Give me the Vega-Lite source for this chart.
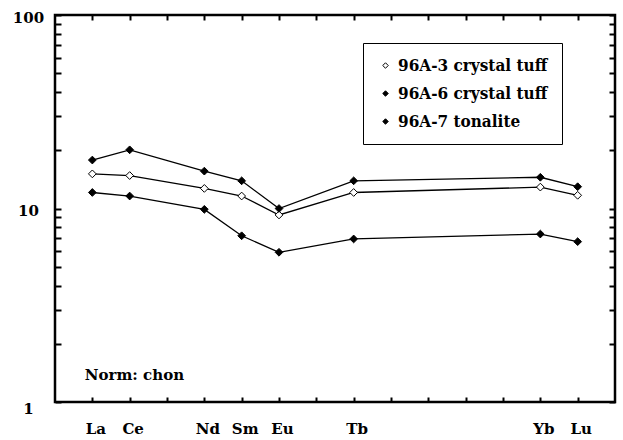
{
  "$schema": "https://vega.github.io/schema/vega-lite/v6.json",
  "width": 560,
  "height": 387,
  "autosize": "none",
  "padding": {"left": 55, "top": 15, "right": 8, "bottom": 38},
  "background": "white",
  "config": {
    "view": {"stroke": "black", "strokeWidth": 2.5},
    "axis": {
      "domain": false, "tickColor": "black", "labelColor": "black", "grid": false,
      "labelFont": "DejaVu Serif", "labelFontWeight": "bold", "labelFontSize": 15,
      "tickWidth": 2, "title": null
    }
  },
  "data": {"values": [
    {"el": "La", "pos": 1, "s": "96A-3 crystal tuff", "v": 15.1},
    {"el": "Ce", "pos": 2, "s": "96A-3 crystal tuff", "v": 14.8},
    {"el": "Nd", "pos": 4, "s": "96A-3 crystal tuff", "v": 12.7},
    {"el": "Sm", "pos": 5, "s": "96A-3 crystal tuff", "v": 11.6},
    {"el": "Eu", "pos": 6, "s": "96A-3 crystal tuff", "v": 9.26},
    {"el": "Tb", "pos": 8, "s": "96A-3 crystal tuff", "v": 12.1},
    {"el": "Yb", "pos": 13, "s": "96A-3 crystal tuff", "v": 12.9},
    {"el": "Lu", "pos": 14, "s": "96A-3 crystal tuff", "v": 11.7},
    {"el": "La", "pos": 1, "s": "96A-6 crystal tuff", "v": 17.8},
    {"el": "Ce", "pos": 2, "s": "96A-6 crystal tuff", "v": 20.1},
    {"el": "Nd", "pos": 4, "s": "96A-6 crystal tuff", "v": 15.6},
    {"el": "Sm", "pos": 5, "s": "96A-6 crystal tuff", "v": 13.9},
    {"el": "Eu", "pos": 6, "s": "96A-6 crystal tuff", "v": 10.0},
    {"el": "Tb", "pos": 8, "s": "96A-6 crystal tuff", "v": 13.9},
    {"el": "Yb", "pos": 13, "s": "96A-6 crystal tuff", "v": 14.5},
    {"el": "Lu", "pos": 14, "s": "96A-6 crystal tuff", "v": 12.96},
    {"el": "La", "pos": 1, "s": "96A-7 tonalite", "v": 12.1},
    {"el": "Ce", "pos": 2, "s": "96A-7 tonalite", "v": 11.6},
    {"el": "Nd", "pos": 4, "s": "96A-7 tonalite", "v": 9.9},
    {"el": "Sm", "pos": 5, "s": "96A-7 tonalite", "v": 7.23},
    {"el": "Eu", "pos": 6, "s": "96A-7 tonalite", "v": 5.94},
    {"el": "Tb", "pos": 8, "s": "96A-7 tonalite", "v": 6.96},
    {"el": "Yb", "pos": 13, "s": "96A-7 tonalite", "v": 7.38},
    {"el": "Lu", "pos": 14, "s": "96A-7 tonalite", "v": 6.74}
  ]},
  "layer": [
    {
      "mark": {"type": "line", "color": "black", "strokeWidth": 1.3},
      "encoding": {
        "x": {"field": "pos", "type": "quantitative",
          "scale": {"domain": [0, 15], "nice": false, "zero": false},
          "axis": {"orient": "bottom", "values": [1,2,3,4,5,6,7,8,9,10,11,12,13,14],
            "labelExpr": "['','La','Ce','','Nd','Sm','Eu','','Tb','','','','','Yb','Lu',''][datum.value]",
            "offset": -5, "tickSize": 5, "labelPadding": 19, "labelOffset": 3}},
        "y": {"field": "v", "type": "quantitative",
          "scale": {"type": "log", "domain": [1, 100], "nice": false},
          "axis": {"orient": "left", "values": [1,2,3,4,5,6,7,8,9,10,20,30,40,50,60,70,80,90,100],
            "labelExpr": "indexof([1,10,100], datum.value) >= 0 ? format(datum.value, 'd') : ''",
            "offset": -6, "tickSize": 6, "labelAlign": "center", "labelPadding": 27,
            "labelOffset": {"condition": {"test": "datum.value == 1", "value": 6}, "value": 2}}},
        "detail": {"field": "s"}
      }
    },
    {
      "mark": {"type": "point", "shape": "diamond", "filled": true, "size": 60, "stroke": "black", "strokeWidth": 1, "opacity": 1},
      "encoding": {
        "x": {"field": "pos", "type": "quantitative",
          "axis": {"orient": "top", "values": [1,2,3,4,5,6,7,8,9,10,11,12,13,14], "labels": false, "offset": -5, "tickSize": 5}},
        "y": {"field": "v", "type": "quantitative",
          "axis": {"orient": "right", "values": [1,2,3,4,5,6,7,8,9,10,20,30,40,50,60,70,80,90,100], "labels": false,
            "offset": -6, "tickSize": 6}},
        "fill": {"field": "s", "type": "nominal",
          "scale": {"domain": ["96A-3 crystal tuff", "96A-6 crystal tuff", "96A-7 tonalite"], "range": ["white", "black", "black"]},
          "legend": {"orient": "none", "legendX": 308, "legendY": 28, "title": null,
            "strokeColor": "black", "padding": 14, "fillColor": "white",
            "labelExpr": "datum.label + '\u00a0\u00a0\u00a0\u00a0'",
            "labelFont": "DejaVu Serif Condensed", "labelFontWeight": "bold", "labelFontSize": 17, "labelColor": "black", "labelLimit": 0,
            "symbolType": "diamond", "symbolSize": 30, "symbolStrokeColor": "black", "symbolStrokeWidth": 1,
            "rowPadding": 10, "labelOffset": 4}}
      }
    },
    {
      "data": {"values": [{"x": 0.8, "y": 1.38, "t": "Norm: chon"}]},
      "mark": {"type": "text", "align": "left", "baseline": "middle", "fontSize": 15, "font": "DejaVu Serif", "fontWeight": "bold", "color": "black"},
      "encoding": {
        "x": {"field": "x", "type": "quantitative", "axis": null},
        "y": {"field": "y", "type": "quantitative", "axis": null},
        "text": {"field": "t"}
      }
    }
  ],
  "resolve": {"axis": {"x": "independent", "y": "independent"}}
}
